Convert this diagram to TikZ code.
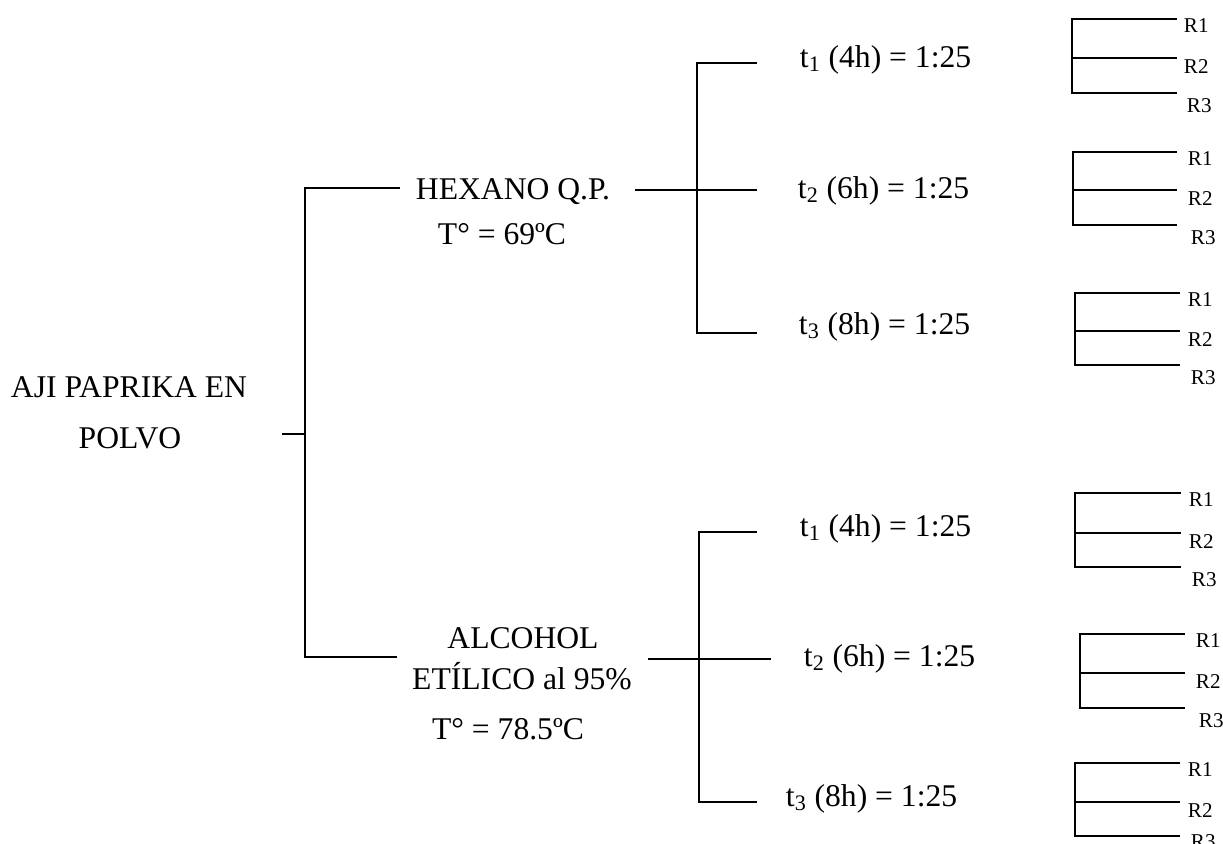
\documentclass[tikz,border=0pt]{standalone}
\usepackage{fontspec}
\setmainfont{Liberation Serif}
\newcommand{\tsub}[1]{\textsubscript{#1}}

\begin{document}
\begin{tikzpicture}[x=0.02cm,y=-0.02cm,line width=1.1pt,
    every node/.style={font=\fontsize{18}{22}\selectfont,inner sep=0pt},
    tlab/.style={anchor=base west},
    rlab/.style={anchor=base west,font=\fontsize{12}{14}\selectfont}]
\useasboundingbox (0,0) rectangle (1223,843);
% material
\node[anchor=base] (root1) at (129,397) {AJI PAPRIKA EN};
\node[anchor=base] (root2) at (130,448) {POLVO};
\coordinate (rootout) at (282,434);
\coordinate (j0) at (305,434);
\coordinate (j0top) at (305,188);
\coordinate (j0bot) at (305,657);
\coordinate (hexin) at (400,188);
\coordinate (alcin) at (397,657);
\draw (rootout) -- (j0);
\draw (hexin) -- (j0top) -- (j0bot) -- (alcin);
% solvents
\node[anchor=base] (hex) at (513,199) {HEXANO Q.P.};
\node[anchor=base] (hexT) at (502,244) {T° = 69ºC};
\node[anchor=base] (alc1) at (523,648) {ALCOHOL};
\node[anchor=base] (alc2) at (522,689) {ETÍLICO al 95\%};
\node[anchor=base] (alcT) at (508,739) {T° = 78.5ºC};
% times, hexano
\node[tlab] (h1) at (799,67) {t\tsub{1} (4h) = 1:25};
\node[tlab] (h2) at (797,198) {t\tsub{2} (6h) = 1:25};
\node[tlab] (h3) at (798,334) {t\tsub{3} (8h) = 1:25};
\coordinate (hout) at (635,190);
\coordinate (hv1) at (697,63);
\coordinate (hv3) at (697,333);
\coordinate (he1) at (757,63);
\coordinate (he2) at (757,190);
\coordinate (he3) at (757,333);
\draw (he1) -- (hv1) -- (hv3) -- (he3);
\draw (hout) -- (he2);
% times, alcohol
\node[tlab] (a1) at (799,536) {t\tsub{1} (4h) = 1:25};
\node[tlab] (a2) at (803,666) {t\tsub{2} (6h) = 1:25};
\node[tlab] (a3) at (785,806) {t\tsub{3} (8h) = 1:25};
\coordinate (aout) at (648,659);
\coordinate (av1) at (699,532);
\coordinate (av3) at (699,802);
\coordinate (ae1) at (757,532);
\coordinate (ae2) at (771,659);
\coordinate (ae3) at (757,802);
\draw (ae1) -- (av1) -- (av3) -- (ae3);
\draw (aout) -- (ae2);
% repetitions
\foreach \k/\vx/\ya/\yb/\yc/\xe/\lx/\d in {1/1072/19/58/93/1177/1183/19,
    2/1073/152/190/225/1177/1187/19, 3/1075/293/331/365/1180/1187/19,
    4/1075/493/533/567/1181/1188/19, 5/1080/634/673/708/1185/1195/19,
    6/1075/763/802/836/1180/1187/12}{
  \node[rlab] (r\k-1) at (\lx,\ya+13) {R1};
  \node[rlab] (r\k-2) at (\lx,\yb+15) {R2};
  \node[rlab] (r\k-3) at (\lx+3,\yc+\d) {R3};
  \coordinate (v\k-1) at (\vx,\ya);
  \coordinate (v\k-2) at (\vx,\yb);
  \coordinate (v\k-3) at (\vx,\yc);
  \coordinate (e\k-1) at (\xe,\ya);
  \coordinate (e\k-2) at (\xe,\yb);
  \coordinate (e\k-3) at (\xe,\yc);
  \draw (e\k-1) -- (v\k-1) -- (v\k-3) -- (e\k-3);
  \draw (v\k-2) -- (e\k-2);
}
\end{tikzpicture}
\end{document}
